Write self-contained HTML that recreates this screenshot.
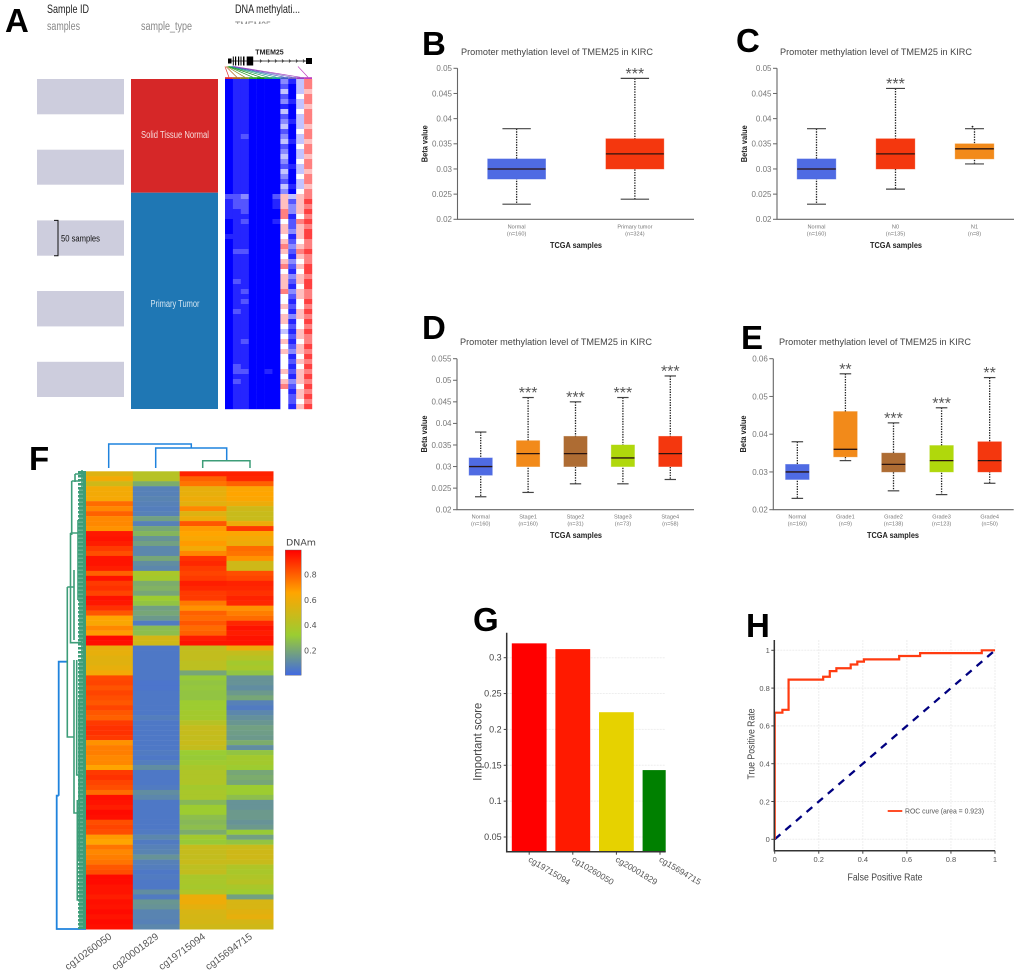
<!DOCTYPE html>
<html lang="en">
<head>
<meta charset="utf-8">
<title>TMEM25 methylation figure</title>
<style>
html,body{margin:0;padding:0;background:#fff;}
svg{display:block;font-family:"Liberation Sans",Arial,sans-serif;}
.letter{font-size:33px;font-weight:bold;fill:#000;}
</style>
</head>
<body>
<svg id="fig" xmlns="http://www.w3.org/2000/svg" width="1020" height="974" viewBox="0 0 1020 974">
<defs>
<clipPath id="clip-g"><rect x="507" y="630" width="158.7" height="222"/></clipPath>
<clipPath id="clip-tm"><rect x="230" y="19" width="60" height="5"/></clipPath>
<linearGradient id="dnam-gradient" x1="0" y1="0" x2="0" y2="1">
<stop offset="0" stop-color="#ff0000"/><stop offset="0.34" stop-color="#ffa500"/><stop offset="0.68" stop-color="#9acd32"/><stop offset="1" stop-color="#4169e1"/>
</linearGradient>
</defs>

<rect width="1020" height="974" fill="#fff"/>

<text class="letter" x="5" y="32">A</text>
<text class="letter" x="422" y="55">B</text>
<text class="letter" x="736" y="52">C</text>
<text class="letter" x="422" y="339">D</text>
<text class="letter" x="741" y="349">E</text>
<text class="letter" x="29" y="470">F</text>
<text class="letter" x="473" y="631">G</text>
<text class="letter" x="746" y="637">H</text>

<!-- Panel A -->
<g>
<text x="47" y="13" font-size="12" fill="#222" textLength="42" lengthAdjust="spacingAndGlyphs">Sample ID</text>
<text x="47" y="30" font-size="11.5" fill="#888" textLength="33" lengthAdjust="spacingAndGlyphs">samples</text>
<text x="141" y="30" font-size="11.5" fill="#888" textLength="51" lengthAdjust="spacingAndGlyphs">sample_type</text>
<text x="235" y="13" font-size="12" fill="#222" textLength="65" lengthAdjust="spacingAndGlyphs">DNA methylati...</text>
<text x="235" y="30" font-size="11.5" fill="#888" clip-path="url(#clip-tm)" textLength="36" lengthAdjust="spacingAndGlyphs">TMEM25</text>

<rect x="37" y="79" width="87" height="35.3" fill="#cdcddd"/>
<rect x="37" y="149.7" width="87" height="35" fill="#cdcddd"/>
<rect x="37" y="220.4" width="87" height="35.3" fill="#cdcddd"/>
<rect x="37" y="291" width="87" height="35.4" fill="#cdcddd"/>
<rect x="37" y="361.8" width="87" height="35.2" fill="#cdcddd"/>
<path d="M54 220.4H58V255.7H54" fill="none" stroke="#111" stroke-width="1"/>
<text x="61" y="241.5" font-size="9.5" fill="#111" textLength="39" lengthAdjust="spacingAndGlyphs">50 samples</text>

<rect x="131" y="79" width="87" height="113.7" fill="#d62728"/>
<rect x="131" y="192.7" width="87" height="216.3" fill="#1f77b4"/>
<text x="175" y="138" font-size="10" fill="#f6dcdc" text-anchor="middle" textLength="68" lengthAdjust="spacingAndGlyphs">Solid Tissue Normal</text>
<text x="175" y="307" font-size="10" fill="#d5e6f2" text-anchor="middle" textLength="49" lengthAdjust="spacingAndGlyphs">Primary Tumor</text>

<g>
<text x="269.5" y="54.5" font-size="7" font-weight="bold" fill="#222" text-anchor="middle">TMEM25</text>
<line x1="228" y1="61" x2="312" y2="61" stroke="#111" stroke-width="0.8"/>
<path d="M228 58.5h3.5v5h-3.5zM232.8 56.5h1v9h-1zM235 56.5h1.2v9h-1.2zM238 56.5h1.2v9h-1.2zM240.5 56.5h1v9h-1zM243 56.5h1.5v9h-1.5zM246.7 56.5h6.5v9h-6.5zM306 58h6v6h-6z" fill="#000"/>
<path d="M260 59.5l1.5 1.5-1.5 1.5M268 59.5l1.5 1.5-1.5 1.5M275 59.5l1.5 1.5-1.5 1.5M282 59.5l1.5 1.5-1.5 1.5M289 59.5l1.5 1.5-1.5 1.5M296 59.5l1.5 1.5-1.5 1.5M303 59.5l1.5 1.5-1.5 1.5" fill="none" stroke="#111" stroke-width="0.7"/>
</g>
<g id="fan"></g>
<g id="heat-a"></g>
</g>

<!-- Box panels -->
<g id="panel-b">
<text x="557" y="55" font-size="9.5" fill="#444" text-anchor="middle" textLength="192" lengthAdjust="spacingAndGlyphs">Promoter methylation level of TMEM25 in KIRC</text>
<text x="576" y="248" font-size="8.5" font-weight="bold" fill="#222" text-anchor="middle" textLength="52" lengthAdjust="spacingAndGlyphs">TCGA samples</text>
<text transform="translate(427.5,143.7) rotate(-90)" font-size="8" font-weight="bold" fill="#222" text-anchor="middle" textLength="37" lengthAdjust="spacingAndGlyphs">Beta value</text>
</g>
<g id="panel-c">
<text x="876" y="55" font-size="9.5" fill="#444" text-anchor="middle" textLength="192" lengthAdjust="spacingAndGlyphs">Promoter methylation level of TMEM25 in KIRC</text>
<text x="896" y="248" font-size="8.5" font-weight="bold" fill="#222" text-anchor="middle" textLength="52" lengthAdjust="spacingAndGlyphs">TCGA samples</text>
<text transform="translate(747,143.7) rotate(-90)" font-size="8" font-weight="bold" fill="#222" text-anchor="middle" textLength="37" lengthAdjust="spacingAndGlyphs">Beta value</text>
</g>
<g id="panel-d">
<text x="556" y="345" font-size="9.5" fill="#444" text-anchor="middle" textLength="192" lengthAdjust="spacingAndGlyphs">Promoter methylation level of TMEM25 in KIRC</text>
<text x="576" y="538" font-size="8.5" font-weight="bold" fill="#222" text-anchor="middle" textLength="52" lengthAdjust="spacingAndGlyphs">TCGA samples</text>
<text transform="translate(427,434) rotate(-90)" font-size="8" font-weight="bold" fill="#222" text-anchor="middle" textLength="37" lengthAdjust="spacingAndGlyphs">Beta value</text>
</g>
<g id="panel-e">
<text x="875" y="345" font-size="9.5" fill="#444" text-anchor="middle" textLength="192" lengthAdjust="spacingAndGlyphs">Promoter methylation level of TMEM25 in KIRC</text>
<text x="893" y="538" font-size="8.5" font-weight="bold" fill="#222" text-anchor="middle" textLength="52" lengthAdjust="spacingAndGlyphs">TCGA samples</text>
<text transform="translate(746,434) rotate(-90)" font-size="8" font-weight="bold" fill="#222" text-anchor="middle" textLength="37" lengthAdjust="spacingAndGlyphs">Beta value</text>
</g>

<!-- Panel F -->
<g id="panel-f">
<g>
<path d="M108.7 468V444H191.3V448M155.7 468V448H226.7V460.7" fill="none" stroke="#1f83dd" stroke-width="1.5"/>
<path d="M202.7 468V460.7H250V468" fill="none" stroke="#3d9d78" stroke-width="1.5"/>
</g>
<g>
<path d="M86 929H56.7V795.7H58.7M58.7 795.7V661.7H67.3" fill="none" stroke="#1f83dd" stroke-width="1.8"/>
<path d="M67.3 587V737H74M67.3 587H74V570M70.5 533V642.7H82M70.5 533H78M71.7 481V535M71.7 481H80M75 474H85M75 474V482M74 570V640M74 660V813H82M76.7 660V775H82M77.3 800V900H82M80 488V640M80 660V927M78 520V600M82 470V929M79 700V860" fill="none" stroke="#3d9d78" stroke-width="1.6"/>
<path d="M81.5 471V929" stroke="#3d9d78" stroke-width="7" stroke-dasharray="2.5 1.5" fill="none"/>
<path d="M84.5 471V929" stroke="#3d9d78" stroke-width="3" fill="none"/>
</g>
<g id="heat-f"></g>
<g id="heat-f-labels"></g>
<text x="301" y="545.5" font-size="8.5" fill="#444" text-anchor="middle" font-family="DejaVu Sans" textLength="30" lengthAdjust="spacingAndGlyphs">DNAm</text>
<rect x="285.3" y="550" width="16" height="125.3" fill="url(#dnam-gradient)" stroke="#666" stroke-width="0.4"/>
<g id="colorbar-ticks"></g>
</g>

<!-- Panel G -->
<g id="panel-g"></g>

<!-- Panel H -->
<g id="panel-h"></g>
</svg>

<script>
// ---------- Panel A data: one string per row, one digit per probe (0 blue, 5 white, 9 red) ----------
const methylationRows = [
"01100003147","01100002047","01100004046","01100002057","01100003147","01100001046","01100004057","01100002047",
"01100003147","01100004046","01100002057","01200003047","01100004146","01100002057","01100003047","01100004046",
"01100003057","01100002147","01100004046","01100003057","01100002047","01100004146","01100003057",
"22300026467","12200016268","12200016367","11200007368","11100007157","01200015278","01100006267","01100006368",
"11100005168","01100006257","01100007367","02200006278","01100005167","01100006357","01100007268","01100005158",
"01100006367","02100006268","01100006158","01200007367","01100005267","01200005158","01100006257","02100005168",
"01100006367","01100006158","01100005257","01100004168","01100005267","01200006157","01100005268","01100006367",
"01100005158","01100005267","02100005158","02200106267","01100005168","02100006367","01100007258","01100005167",
"01100005268","01100005257","01100005168"
];

// ---------- Panel B ----------
const bCategories = ['Normal','Primary tumor'];
const bCounts = [160,324];
const bWhiskerLow = [0.023,0.024];
const bQ1 = [0.028,0.030];
const bMedian = [0.030,0.033];
const bQ3 = [0.032,0.036];
const bWhiskerHigh = [0.038,0.048];
const bStars = ['','***'];
const bTicks = [0.02,0.025,0.03,0.035,0.04,0.045,0.05];

// ---------- Panel C ----------
const cCategories = ['Normal','N0','N1'];
const cCounts = [160,135,8];
const cWhiskerLow = [0.023,0.026,0.031];
const cQ1 = [0.028,0.030,0.032];
const cMedian = [0.030,0.033,0.034];
const cQ3 = [0.032,0.036,0.035];
const cWhiskerHigh = [0.038,0.046,0.038];
const cStars = ['','***',''];
const cOutliers = [null,null,0.0384];
const cTicks = [0.02,0.025,0.03,0.035,0.04,0.045,0.05];

// ---------- Panel D ----------
const dCategories = ['Normal','Stage1','Stage2','Stage3','Stage4'];
const dCounts = [160,160,31,73,58];
const dWhiskerLow = [0.023,0.024,0.026,0.026,0.027];
const dQ1 = [0.028,0.030,0.030,0.030,0.030];
const dMedian = [0.030,0.033,0.033,0.032,0.033];
const dQ3 = [0.032,0.036,0.037,0.035,0.037];
const dWhiskerHigh = [0.038,0.046,0.045,0.046,0.051];
const dStars = ['','***','***','***','***'];
const dTicks = [0.02,0.025,0.03,0.035,0.04,0.045,0.05,0.055];

// ---------- Panel E ----------
const eCategories = ['Normal','Grade1','Grade2','Grade3','Grade4'];
const eCounts = [160,9,138,123,50];
const eWhiskerLow = [0.023,0.033,0.025,0.024,0.027];
const eQ1 = [0.028,0.034,0.030,0.030,0.030];
const eMedian = [0.030,0.036,0.032,0.033,0.033];
const eQ3 = [0.032,0.046,0.035,0.037,0.038];
const eWhiskerHigh = [0.038,0.056,0.043,0.047,0.055];
const eStars = ['','**','***','***','**'];
const eTicks = [0.02,0.03,0.04,0.05,0.06];

// ---------- Panel F ----------
const dnamProbes = ['cg10260050','cg20001829','cg19715094','cg15694715'];
const colorbarTicks = [0.8,0.6,0.4,0.2];
const dnamRows = [
[.55,.42,.93,.93],[.62,.42,.8,.92],[.5,.22,.76,.8],[.62,.08,.58,.65],[.62,.08,.58,.66],[.63,.09,.6,.65],
[.78,.08,.57,.6],[.72,.07,.72,.5],[.8,.08,.55,.48],[.72,.18,.6,.48],[.72,.08,.82,.6],[.7,.2,.68,.88],
[.95,.25,.66,.65],[.96,.14,.64,.62],[.94,.18,.68,.6],[.88,.1,.62,.78],[.84,.1,.72,.76],[.96,.2,.9,.7],
[.96,.12,.92,.5],[.94,.1,.88,.5],[.8,.38,.86,.84],[.96,.36,.88,.86],[.88,.22,.94,.93],[.9,.24,.92,.92],
[.86,.2,.88,.9],[.96,.34,.88,.93],[.95,.3,.75,.92],[.9,.18,.7,.7],[.82,.2,.8,.74],[.66,.16,.78,.78],
[.64,.06,.82,.92],[.72,.27,.78,.96],[.68,.28,.8,.94],[.98,.52,.94,.96],[.97,.5,.96,.96],[.58,.05,.46,.6],
[.58,.05,.46,.46],[.56,.05,.46,.42],[.56,.05,.44,.36],[.58,.05,.44,.38],[.62,.05,.2,.3],[.85,.05,.32,.14],
[.86,.04,.3,.14],[.83,.04,.31,.12],[.86,.05,.3,.16],[.84,.05,.3,.2],[.82,.05,.34,.08],[.86,.05,.34,.06],
[.82,.05,.36,.1],[.8,.07,.36,.13],[.88,.05,.42,.15],[.9,.05,.47,.18],[.9,.05,.47,.17],[.88,.05,.46,.16],
[.7,.05,.48,.22],[.74,.05,.46,.12],[.74,.06,.33,.3],[.72,.05,.32,.36],[.72,.07,.35,.36],[.66,.12,.38,.34],
[.88,.05,.4,.2],[.9,.05,.4,.22],[.86,.05,.4,.2],[.84,.06,.36,.34],[.78,.12,.38,.34],[.97,.1,.38,.28],
[.96,.05,.26,.14],[.94,.05,.34,.14],[.98,.05,.34,.16],[.97,.05,.28,.16],[.84,.05,.26,.14],[.86,.05,.28,.16],
[.84,.06,.22,.32],[.68,.1,.36,.18],[.66,.06,.32,.3],[.76,.08,.47,.48],[.72,.09,.47,.5],[.74,.14,.46,.5],
[.76,.08,.48,.48],[.82,.07,.44,.4],[.84,.05,.46,.38],[.98,.06,.38,.4],[.98,.05,.38,.42],[.96,.05,.37,.38],
[.96,.12,.4,.35],[.94,.06,.6,.18],[.97,.15,.6,.53],[.96,.14,.57,.53],[.98,.09,.53,.56],[.96,.09,.52,.58],
[.98,.08,.52,.52],[.97,.1,.5,.5]
];

// ---------- Panel G ----------
const gProbes = ['cg19715094','cg10260050','cg20001829','cg15694715'];
const gScores = [0.32,0.312,0.224,0.1433];
const gTicks = [0.05,0.1,0.15,0.2,0.25,0.3];

// ---------- Panel H ----------
const rocFpr = [0,0,0.035,0.035,0.063,0.063,0.22,0.22,0.25,0.25,0.28,0.28,0.345,0.345,0.375,0.375,0.405,0.405,0.565,0.565,0.66,0.66,0.94,0.94,1];
const rocTpr = [0,0.67,0.67,0.685,0.685,0.845,0.845,0.86,0.86,0.89,0.89,0.905,0.905,0.925,0.925,0.94,0.94,0.952,0.952,0.97,0.97,0.985,0.985,1,1];
const rocTicks = [0,0.2,0.4,0.6,0.8,1];
const rocAuc = '0.923';

// ---------- Helpers ----------
const NS = 'http://www.w3.org/2000/svg';
function mk(tag, parent, props) {
  const el = document.createElementNS(NS, tag);
  for (const k in props) el.setAttribute(k, props[k]);
  parent.appendChild(el);
  return el;
}
function linear(d0, d1, r0, r1) {
  return v => r0 + (v - d0) / (d1 - d0) * (r1 - r0);
}
const boxColor = {
  'Normal':'#4f6be3','Primary tumor':'#f4370e','N0':'#f4370e','N1':'#f28a1a',
  'Stage1':'#f28a1a','Stage2':'#ae6c33','Stage3':'#b0d80c','Stage4':'#f4370e',
  'Grade1':'#f28a1a','Grade2':'#ae6c33','Grade3':'#b0d80c','Grade4':'#f4370e'
};

// ---------- Panel A drawing ----------
(function () {
  const fanGroup = document.getElementById('fan');
  const heat = document.getElementById('heat-a');
  const colLeft = 225, colW = 87 / 11, top = 79, h = 330;
  const probeColors = ['#e03030','#b5651d','#8a8a1e','#2aa02a','#109010','#1f9d60','#1fa090','#4060c0','#7060c0','#a040c0','#c040c0'];
  probeColors.forEach((c, i) => {
    const bar = mk('rect', fanGroup, {x: colLeft + i * colW, y: 77.2, width: colW, height: 2, fill: c});
    
    
    const fromX = i === 10 ? 298 : 225 + i * 1;
    const ln = mk('line', fanGroup, {x1: fromX, y1: 66.5, x2: colLeft + (i + 0.5) * colW, y2: 77.2, stroke: c, 'stroke-width': 0.7});
    
    
  });
  function shade(d) {
    if (d < 5) { const t = Math.round(255 * Math.pow(d / 5, 1.2)); return 'rgb(' + t + ',' + t + ',255)'; }
    const t = Math.round(255 * (1 - (d - 5) / 4));
    return 'rgb(255,' + t + ',' + t + ')';
  }
  const rowH = h / methylationRows.length;
  methylationRows.forEach((row, r) => {
    for (let c = 0; c < row.length; c++) {
      const cell = mk('rect', heat, {x: colLeft + c * colW, y: top + r * rowH, width: colW + 0.2, height: rowH + 0.2, fill: shade(+row[c])});
      
      
    }
  });
})();

// ---------- Box panels drawing ----------
function drawBoxes(groupId, cfg) {
  const g = document.getElementById(groupId);
  const y = linear(cfg.ticks[0], cfg.ticks[cfg.ticks.length - 1], cfg.bottom, cfg.top);
  const band = (cfg.right - cfg.left) / cfg.categories.length;
  const axis = mk('path', g, {d: 'M' + cfg.left + ' ' + cfg.top + 'V' + cfg.bottom + 'H' + cfg.right, fill: 'none', stroke: '#666', 'stroke-width': 1.1});
  
  
  cfg.ticks.forEach(t => {
    const tick = mk('line', g, {x1: cfg.left - 4, x2: cfg.left, y1: y(t), y2: y(t), stroke: '#666', 'stroke-width': 1});
    
    
    const lab = mk('text', g, {x: cfg.left - 5.5, y: y(t) + 2.8, 'font-size': 8, fill: '#777', 'text-anchor': 'end'});
    lab.textContent = String(t);
    
    
  });
  cfg.categories.forEach((cat, i) => {
    const cx = cfg.left + band * (i + 0.5);
    const w = band * 0.49, cap = band * 0.24;
    const color = boxColor[cat];
    const whisker = mk('line', g, {x1: cx, x2: cx, y1: y(cfg.high[i]), y2: y(cfg.low[i]), stroke: '#222', 'stroke-width': 1.3, 'stroke-dasharray': '1.4 1.2'});
    
    
    [cfg.high[i], cfg.low[i]].forEach(v => {
      const c = mk('line', g, {x1: cx - cap / 2, x2: cx + cap / 2, y1: y(v), y2: y(v), stroke: '#444', 'stroke-width': 1.2});
      
      
    });
    const box = mk('rect', g, {x: cx - w / 2, y: y(cfg.q3[i]), width: w, height: y(cfg.q1[i]) - y(cfg.q3[i]), fill: color, stroke: color, 'stroke-opacity': 0.5, 'stroke-width': 0.8});
    
    
    const med = mk('line', g, {x1: cx - w / 2, x2: cx + w / 2, y1: y(cfg.median[i]), y2: y(cfg.median[i]), stroke: '#2a1410', 'stroke-width': 1.3});
    
    
    const l1 = mk('text', g, {x: cx, y: cfg.bottom + 9, 'font-size': 5.6, fill: '#777', 'text-anchor': 'middle'});
    l1.textContent = cat;
    
    
    const l2 = mk('text', g, {x: cx, y: cfg.bottom + 16, 'font-size': 5.6, fill: '#777', 'text-anchor': 'middle'});
    l2.textContent = '(n=' + cfg.counts[i] + ')';
    
    
    if (cfg.stars[i]) {
      const s = mk('text', g, {x: cx, y: y(cfg.high[i]) + 0.5, 'font-size': 16, fill: '#555', 'text-anchor': 'middle'});
      s.textContent = cfg.stars[i];
      
      
    }
    if (cfg.outliers && cfg.outliers[i] != null) {
      const o = mk('circle', g, {cx: cx - 2, cy: y(cfg.outliers[i]), r: 0.9, fill: '#222'});
      
      
    }
  });
}
drawBoxes('panel-b', {left: 457.5, right: 694, top: 68.3, bottom: 219.3, categories: bCategories, counts: bCounts, low: bWhiskerLow, q1: bQ1, median: bMedian, q3: bQ3, high: bWhiskerHigh, stars: bStars, ticks: bTicks});
drawBoxes('panel-c', {left: 777, right: 1014, top: 68.3, bottom: 219.3, categories: cCategories, counts: cCounts, low: cWhiskerLow, q1: cQ1, median: cMedian, q3: cQ3, high: cWhiskerHigh, stars: cStars, ticks: cTicks, outliers: cOutliers});
drawBoxes('panel-d', {left: 457, right: 694, top: 358.7, bottom: 509.7, categories: dCategories, counts: dCounts, low: dWhiskerLow, q1: dQ1, median: dMedian, q3: dQ3, high: dWhiskerHigh, stars: dStars, ticks: dTicks});
drawBoxes('panel-e', {left: 773.3, right: 1013.7, top: 358.7, bottom: 509.7, categories: eCategories, counts: eCounts, low: eWhiskerLow, q1: eQ1, median: eMedian, q3: eQ3, high: eWhiskerHigh, stars: eStars, ticks: eTicks});

// ---------- Panel F drawing ----------
(function () {
  const stops = [[0, [65,105,225]], [0.33, [154,205,50]], [0.66, [255,165,0]], [1, [255,0,0]]];
  function colorOf(v) {
    for (let i = 1; i < stops.length; i++) {
      if (v <= stops[i][0]) {
        const t = (v - stops[i-1][0]) / (stops[i][0] - stops[i-1][0]);
        const a = stops[i-1][1], b = stops[i][1];
        return 'rgb(' + Math.round(a[0] + (b[0]-a[0])*t) + ',' + Math.round(a[1] + (b[1]-a[1])*t) + ',' + Math.round(a[2] + (b[2]-a[2])*t) + ')';
      }
    }
    return 'rgb(255,0,0)';
  }
  const heat = document.getElementById('heat-f');
  const left = 86, right = 273.3, top = 471.3, bottom = 929.3;
  const colW = (right - left) / dnamProbes.length;
  const rowH = (bottom - top) / dnamRows.length;
  dnamRows.forEach((row, r) => {
    row.forEach((v, c) => {
      const cell = mk('rect', heat, {x: left + c * colW, y: top + r * rowH, width: colW + 0.2, height: rowH + 0.2, fill: colorOf(v)});
      
      
    });
  });
  const labels = document.getElementById('heat-f-labels');
  dnamProbes.forEach((p, i) => {
    const x = left + (i + 0.5) * colW + 3;
    const t = mk('text', labels, {transform: 'translate(' + x + ',938) rotate(-36)', 'font-size': 10, fill: '#555', 'text-anchor': 'end', textLength: 55, lengthAdjust: 'spacingAndGlyphs'});
    t.textContent = p;
    
    
  });
  const ticksG = document.getElementById('colorbar-ticks');
  const cy = linear(0.2, 0.8, 650.7, 574.3);
  colorbarTicks.forEach(v => {
    const t = mk('text', ticksG, {x: 304, y: cy(v) + 3, 'font-size': 8, fill: '#555', 'font-family': 'DejaVu Sans'});
    t.textContent = v.toFixed(1);
    
    
  });
})();

// ---------- Panel G drawing ----------
(function () {
  const g = document.getElementById('panel-g');
  const left = 506.7, right = 665.7, top = 632.7, bottom = 851.7;
  const y = linear(0.05, 0.3, 837, 657.7);
  const band = 43.6, first = 529.2, barW = 34.8;
  const grid = mk('g', g, {});
  
  
  gTicks.forEach(t => {
    const ln = mk('line', grid, {x1: left, x2: right, y1: y(t), y2: y(t), stroke: '#eee', 'stroke-width': 1, 'stroke-dasharray': '2 1'});
    
    
  });
  const barColors = ['#ff0000','#ff1a00','#e6d200','#008000'];
  const bars = mk('g', g, {'clip-path': 'url(#clip-g)'});
  
  
  gScores.forEach((v, i) => {
    const cx = first + i * band;
    const b = mk('rect', bars, {x: cx - barW / 2, y: y(v), width: barW, height: bottom - y(v), fill: barColors[i]});
    
    
    const tk = mk('line', g, {x1: cx, x2: cx, y1: bottom, y2: bottom + 3, stroke: '#444', 'stroke-width': 1});
    
    
    const lab = mk('text', g, {transform: 'translate(' + (cx - 1.5) + ',861) rotate(31)', 'font-size': 8.5, fill: '#555', textLength: 47, lengthAdjust: 'spacingAndGlyphs'});
    lab.textContent = gProbes[i];
    
    
  });
  const axis = mk('path', g, {d: 'M' + left + ' ' + top + 'V' + bottom + 'H' + right, fill: 'none', stroke: '#333', 'stroke-width': 1.5});
  
  
  gTicks.forEach(t => {
    const tk = mk('line', g, {x1: left - 3, x2: left, y1: y(t), y2: y(t), stroke: '#444', 'stroke-width': 1});
    
    
    const lab = mk('text', g, {x: left - 5, y: y(t) + 3, 'font-size': 9, fill: '#444', 'text-anchor': 'end'});
    lab.textContent = String(t);
    
    
  });
  const title = mk('text', g, {transform: 'translate(481.5,741.7) rotate(-90)', 'font-size': 11.5, fill: '#444', 'text-anchor': 'middle', textLength: 78, lengthAdjust: 'spacingAndGlyphs'});
  title.textContent = 'Important score';
  
  
})();

// ---------- Panel H drawing ----------
(function () {
  const g = document.getElementById('panel-h');
  const x = linear(0, 1, 774.7, 995);
  const y = linear(0, 1, 839.3, 650.3);
  const top = 640, bottom = 850.7, left = 774.3, right = 995;
  rocTicks.forEach(t => {
    const h = mk('line', g, {x1: left, x2: right, y1: y(t), y2: y(t), stroke: '#eee', 'stroke-width': 1, 'stroke-dasharray': '2 1'});
    
    
    const v = mk('line', g, {x1: x(t), x2: x(t), y1: top, y2: bottom, stroke: '#eee', 'stroke-width': 1, 'stroke-dasharray': '2 1'});
    
    
  });
  const diag = mk('line', g, {x1: x(0), y1: y(0), x2: x(1), y2: y(1), stroke: '#000080', 'stroke-width': 2.3, 'stroke-dasharray': '7.5 6.5'});
  
  
  const pts = rocFpr.map((f, i) => x(f).toFixed(2) + ',' + y(rocTpr[i]).toFixed(2)).join(' ');
  const roc = mk('polyline', g, {points: pts, fill: 'none', stroke: '#ff3b10', 'stroke-width': 2.2});
  
  
  const axis = mk('path', g, {d: 'M' + left + ' ' + top + 'V' + bottom + 'H' + right, fill: 'none', stroke: '#333', 'stroke-width': 1.5});
  
  
  rocTicks.forEach(t => {
    const yt = mk('line', g, {x1: left - 3, x2: left, y1: y(t), y2: y(t), stroke: '#444', 'stroke-width': 1});
    
    
    const yl = mk('text', g, {x: left - 4.5, y: y(t) + 2.8, 'font-size': 7.5, fill: '#555', 'text-anchor': 'end'});
    yl.textContent = String(t);
    
    
    const xt = mk('line', g, {x1: x(t), x2: x(t), y1: bottom, y2: bottom + 3, stroke: '#444', 'stroke-width': 1});
    
    
    const xl = mk('text', g, {x: x(t), y: 862, 'font-size': 7.5, fill: '#555', 'text-anchor': 'middle'});
    xl.textContent = String(t);
    
    
  });
  const yTitle = mk('text', g, {transform: 'translate(754.5,744) rotate(-90)', 'font-size': 10.5, fill: '#444', 'text-anchor': 'middle', textLength: 71, lengthAdjust: 'spacingAndGlyphs'});
  yTitle.textContent = 'True Positive Rate';
  
  
  const xTitle = mk('text', g, {x: 885, y: 880.5, 'font-size': 10.5, fill: '#444', 'text-anchor': 'middle', textLength: 75, lengthAdjust: 'spacingAndGlyphs'});
  xTitle.textContent = 'False Positive Rate';
  
  
  const legendLine = mk('line', g, {x1: 887.7, x2: 902.3, y1: 811, y2: 811, stroke: '#ff3b10', 'stroke-width': 1.8});
  
  
  const legendText = mk('text', g, {x: 905, y: 813.6, 'font-size': 7.5, fill: '#555', textLength: 79, lengthAdjust: 'spacingAndGlyphs'});
  legendText.textContent = 'ROC curve (area = ' + rocAuc + ')';
  
  
})();
</script>
</body>
</html>
